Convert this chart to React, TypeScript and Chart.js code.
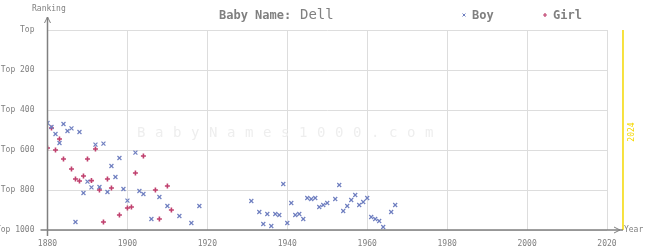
import React, { useEffect, useRef } from "react";
import { Chart, registerables } from "chart.js";

Chart.register(...registerables);

const nameLabel = "Dell";
const boyYears = [1880,1881,1882,1883,1884,1885,1886,1887,1888,1889,1890,1891,1892,1893,1894,1895,1896,1897,1898,1899,1900,1902,1903,1904,1906,1908,1910,1913,1916,1918,1931,1933,1934,1935,1936,1937,1938,1939,1940,1941,1942,1943,1944,1945,1946,1947,1948,1949,1950,1952,1953,1954,1955,1956,1957,1958,1959,1960,1961,1962,1963,1964,1966,1967];
const boyRanks = [465,485,520,565,470,505,492,960,510,815,758,787,573,785,568,810,680,735,640,795,853,613,805,820,945,835,880,930,965,880,855,910,970,920,980,920,925,770,965,865,925,920,945,840,845,840,885,875,865,845,775,905,880,850,825,875,860,840,935,945,955,985,910,875];
const girlYears = [1880,1881,1882,1883,1884,1886,1887,1888,1889,1890,1891,1892,1893,1894,1895,1896,1898,1900,1901,1902,1904,1907,1908,1910,1911];
const girlRanks = [590,490,600,545,645,695,745,755,730,645,753,595,800,960,745,790,925,890,885,715,630,800,945,780,900];
const xTicks = [1880, 1900, 1920, 1940, 1960, 1980, 2000, 2020];
const yTicks = [0, 200, 400, 600, 800, 1000];
const currentYear = 2024;

const BOY = "#6f7fc0";
const GIRL = "#c0406e";
const AXIS = "#808080";
const GRID = "#dddddd";
const MONO = "'DejaVu Sans Mono', monospace";

const decor = {
  id: "decor",
  beforeDatasetsDraw(chart: any) {
    const ctx = chart.ctx;
    ctx.save();
    ctx.fillStyle = "#eeeeee";
    ctx.font = `14px ${MONO}`;
    ctx.textBaseline = "middle";
    ctx.textAlign = "left";
    const wm = "BabyNames1000.com";
    for (let i = 0; i < wm.length; i++) {
      ctx.fillText(wm[i], 137 + i * 18, 133);
    }
    ctx.restore();
  },
  afterDraw(chart: any) {
    const ctx = chart.ctx;
    const { top, bottom, left } = chart.chartArea;
    const xs = chart.scales.x;
    const xEnd = xs.getPixelForValue(currentYear);
    ctx.save();
    ctx.strokeStyle = "#f5d800";
    ctx.lineWidth = 1.5;
    ctx.beginPath();
    ctx.moveTo(xEnd, top);
    ctx.lineTo(xEnd, bottom);
    ctx.stroke();
    ctx.save();
    ctx.translate(xEnd + 9, (top + bottom) / 2 + 2);
    ctx.rotate(-Math.PI / 2);
    ctx.fillStyle = "#f5d800";
    ctx.font = `8px ${MONO}`;
    ctx.textAlign = "center";
    ctx.textBaseline = "middle";
    ctx.fillText(String(currentYear), 0, 0);
    ctx.restore();

    ctx.strokeStyle = AXIS;
    ctx.lineWidth = 1.5;
    ctx.beginPath();
    ctx.moveTo(left, top - 13);
    ctx.lineTo(left, bottom + 6);
    ctx.moveTo(left - 7, bottom);
    ctx.lineTo(xEnd, bottom);
    ctx.stroke();
    ctx.lineWidth = 1;
    ctx.beginPath();
    ctx.moveTo(left - 3, top - 7);
    ctx.lineTo(left, top - 13);
    ctx.lineTo(left + 3, top - 7);
    ctx.moveTo(xEnd - 9, bottom - 3);
    ctx.lineTo(xEnd - 3, bottom);
    ctx.lineTo(xEnd - 9, bottom + 3);
    ctx.stroke();

    ctx.fillStyle = AXIS;
    ctx.font = `8px ${MONO}`;
    ctx.textBaseline = "middle";
    ctx.textAlign = "left";
    ctx.fillText("Ranking", 32, 9);
    ctx.fillText("Year", xEnd + 1, bottom);

    ctx.font = `bold 12px ${MONO}`;
    ctx.fillText("Baby Name:", 219, 16);
    ctx.font = `14px ${MONO}`;
    ctx.fillText(nameLabel, 300, 15);

    ctx.font = `bold 12px ${MONO}`;
    ctx.fillText("Boy", 472, 16);
    ctx.fillText("Girl", 553, 16);
    ctx.lineWidth = 1;
    ctx.strokeStyle = BOY;
    ctx.beginPath();
    ctx.moveTo(462.5, 13.5); ctx.lineTo(465.5, 16.5);
    ctx.moveTo(465.5, 13.5); ctx.lineTo(462.5, 16.5);
    ctx.stroke();
    ctx.strokeStyle = GIRL;
    ctx.lineWidth = 1.2;
    ctx.beginPath();
    ctx.moveTo(545, 13); ctx.lineTo(545, 17);
    ctx.moveTo(543, 15); ctx.lineTo(547, 15);
    ctx.stroke();
    ctx.restore();
  },
};

export default function App() {
  const ref = useRef<HTMLCanvasElement | null>(null);
  useEffect(() => {
    if (!ref.current) return;
    const chart = new Chart(ref.current, {
      type: "scatter",
      data: {
        datasets: [
          {
            label: "Boy",
            data: boyYears.map((y, i) => ({ x: y, y: boyRanks[i] })),
            pointStyle: "crossRot",
            pointRadius: 2.8,
            pointHoverRadius: 2.8,
            borderColor: BOY,
            backgroundColor: BOY,
            borderWidth: 1.2,
          },
          {
            label: "Girl",
            data: girlYears.map((y, i) => ({ x: y, y: girlRanks[i] })),
            pointStyle: "cross",
            pointRadius: 2.5,
            pointHoverRadius: 2.5,
            borderColor: GIRL,
            backgroundColor: GIRL,
            borderWidth: 1.6,
          },
        ],
      },
      options: {
        responsive: false,
        animation: false,
        events: [],
        layout: { padding: { top: 30, right: 38, left: 0, bottom: 0 } },
        plugins: { legend: { display: false }, tooltip: { enabled: false }, title: { display: false } },
        scales: {
          x: {
            type: "linear",
            min: xTicks[0],
            max: xTicks[xTicks.length - 1],
            afterBuildTicks: (s: any) => { s.ticks = xTicks.map((v) => ({ value: v })); },
            afterFit: (s: any) => { s.height = 20; },
            ticks: {
              color: AXIS,
              font: { family: MONO, size: 8 },
              padding: 9,
              maxRotation: 0,
              callback: (v: any) => String(v),
            },
            grid: { color: GRID, drawTicks: false, lineWidth: 1 },
            border: { display: false },
          },
          y: {
            reverse: true,
            min: yTicks[0],
            max: yTicks[yTicks.length - 1],
            afterBuildTicks: (s: any) => { s.ticks = yTicks.map((v) => ({ value: v })); },
            afterFit: (s: any) => { s.width = 47.5; },
            ticks: {
              color: AXIS,
              font: { family: MONO, size: 8 },
              padding: 13,
              callback: (v: any) => (v === 0 ? "Top" : "Top " + v),
            },
            grid: { color: GRID, drawTicks: false, lineWidth: 1 },
            border: { display: false },
          },
        },
      },
      plugins: [decor],
    });
    return () => chart.destroy();
  }, []);
  return (
    <div style={{ position: "absolute", left: 0, top: 0, width: 645, height: 250, background: "#fff" }}>
      <canvas ref={ref} width={645} height={250} style={{ display: "block" }} />
    </div>
  );
}
